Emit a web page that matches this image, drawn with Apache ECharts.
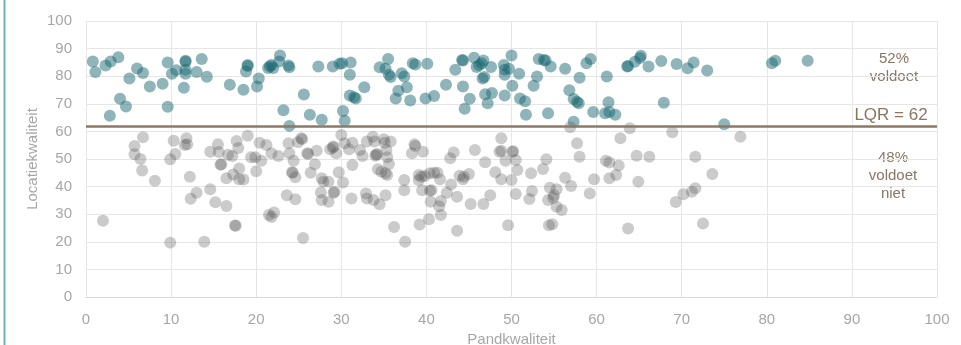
<!DOCTYPE html>
<html>
<head>
<meta charset="utf-8">
<script src="https://cdn.jsdelivr.net/npm/echarts@6/dist/echarts.min.js"></script>
<style>html,body{margin:0;padding:0;background:#fff;}#c{width:961px;height:345px;}</style>
</head>
<body>
<div id="c"></div>
<script>
const xTicks = [0,10,20,30,40,50,60,70,80,90,100];
const yTicks = [0,10,20,30,40,50,60,70,80,90,100];
const lqr = 62;
const xName = 'Pandkwaliteit';
const yName = 'Locatiekwaliteit';
const labelsAbove = ['52%', 'voldoet'];
const labelsBelow = ['48%', 'voldoet', 'niet'];
const lqrLabel = 'LQR = ' + lqr;

// Panden boven de LQR (voldoet)
const voldoet = [
[0.8,85.3],[1.1,81.5],[2.3,83.9],[2.9,85.3],[3.8,86.9],[2.8,65.7],[4.0,71.8],[4.7,69.0],[5.1,79.2],[6.0,82.8],
[6.7,81.2],[7.5,76.3],[9.0,77.3],[9.6,85.0],[9.6,68.9],[10.1,80.9],[10.6,82.2],[11.7,85.6],[11.7,85.2],[11.7,82.3],
[11.7,80.9],[11.5,75.8],[13.0,81.5],[13.6,86.2],[14.2,79.8],[16.9,76.9],[18.5,75.1],[18.8,81.7],[19.0,84.1],[19.0,83.7],
[20.1,76.3],[20.3,79.2],[21.4,83.0],[21.8,84.1],[21.6,83.6],[22.0,83.0],[22.8,87.5],[22.7,85.3],[23.8,83.9],[23.9,83.2],
[23.2,67.7],[23.9,62.0],[25.6,73.4],[26.3,66.0],[27.7,64.2],[27.3,83.5],[29.0,83.5],[29.8,84.5],[30.1,84.7],[31.1,85.0],
[31.0,80.5],[31.0,73.0],[31.5,72.4],[31.7,71.9],[32.7,76.0],[30.2,67.4],[30.4,63.9],[34.5,83.2],[35.5,86.2],[35.2,82.7],
[35.6,80.5],[35.8,79.7],[37.1,81.1],[37.4,79.9],[36.7,74.7],[36.4,71.9],[37.7,76.0],[38.1,71.2],[38.4,84.7],[38.7,84.2],
[40.1,84.5],[39.9,71.9],[40.9,72.8],[42.3,76.9],[43.4,82.3],[44.2,85.9],[44.3,85.7],[44.3,76.3],[45.1,71.8],[44.5,68.2],
[45.6,86.7],[45.9,83.3],[46.2,84.0],[46.5,84.7],[46.7,85.7],[46.6,79.2],[46.8,79.7],[46.9,73.5],[47.2,70.2],[47.7,73.9],
[47.6,83.3],[49.1,84.1],[49.2,82.3],[49.2,80.5],[49.7,82.7],[50.0,87.5],[49.2,73.0],[50.1,76.5],[50.9,80.9],[51.0,71.9],
[51.6,70.9],[51.7,66.0],[53.0,79.9],[52.6,76.5],[53.2,86.2],[54.0,85.7],[53.8,85.9],[54.6,83.5],[54.3,66.6],[56.3,82.7],
[56.8,74.9],[58.0,79.4],[57.3,71.7],[57.7,70.7],[57.9,70.2],[57.3,63.5],[58.8,84.7],[59.3,86.2],[59.6,67.0],[61.2,79.9],
[61.4,70.6],[61.0,66.6],[61.5,67.0],[62.2,66.0],[63.6,83.5],[63.7,83.7],[64.5,85.2],[65.2,87.4],[65.1,86.6],[66.1,83.5],
[67.6,85.5],[69.4,84.4],[70.7,82.9],[71.4,85.0],[73.0,82.1],[67.9,70.4],[75.0,62.6],[80.6,84.7],[81.0,85.6],[84.8,85.6]
];

// Panden onder de LQR (voldoet niet)
const voldoetNiet = [
[2.0,27.6],[5.7,54.7],[5.7,51.7],[6.4,50.0],[6.7,57.9],[6.6,45.8],[8.1,42.1],[9.9,49.9],[10.3,56.6],[10.5,51.8],
[11.8,57.5],[11.6,55.1],[11.9,55.3],[12.2,43.6],[12.3,35.6],[13.0,37.8],[14.6,39.0],[15.2,34.3],[16.5,33.0],[14.6,52.6],
[15.5,55.3],[15.6,52.5],[15.9,48.1],[15.8,47.9],[16.7,51.5],[17.2,51.1],[17.7,56.5],[17.9,54.0],[16.5,43.0],[17.3,44.4],
[18.0,46.6],[18.0,42.7],[18.5,42.6],[17.5,25.9],[17.6,25.8],[19.0,58.4],[19.4,50.6],[19.9,50.6],[20.6,49.4],[20.0,45.6],
[20.4,55.9],[21.2,55.1],[21.8,52.1],[22.6,51.1],[21.5,29.7],[21.8,29.0],[22.1,30.6],[23.9,52.1],[23.8,55.7],[24.4,49.4],
[23.6,36.9],[24.6,35.4],[24.2,45.2],[24.3,45.0],[24.6,43.4],[24.9,56.1],[25.3,57.5],[25.4,57.2],[25.5,21.4],[26.0,52.1],
[26.1,51.8],[26.4,45.0],[26.9,48.1],[27.1,53.0],[27.7,43.0],[27.9,41.8],[27.6,37.9],[27.7,35.1],[28.5,41.8],[28.5,34.5],
[28.7,53.5],[29.1,37.8],[29.2,38.1],[30.2,41.5],[29.7,45.2],[30.0,58.7],[30.4,55.7],[30.9,53.5],[31.3,55.9],[29.0,54.2],
[29.1,54.5],[29.4,52.1],[31.3,47.8],[31.2,35.7],[32.2,53.3],[32.5,51.1],[33.0,56.3],[33.7,58.1],[33.9,56.3],[35.0,57.2],
[35.1,55.9],[35.8,56.3],[34.1,51.5],[34.2,51.8],[34.0,51.2],[35.3,53.3],[35.4,50.6],[35.6,48.2],[34.3,46.3],[34.7,45.4],
[35.2,44.8],[35.4,44.2],[32.9,37.5],[33.0,35.7],[33.8,35.1],[34.5,33.6],[35.2,36.9],[36.2,25.4],[37.5,20.0],[37.4,42.4],
[37.4,38.7],[38.6,55.3],[38.7,54.7],[38.3,52.1],[39.6,52.6],[39.1,44.2],[39.1,42.4],[39.4,43.6],[39.8,43.8],[40.4,44.8],
[40.9,45.0],[41.3,45.0],[41.6,42.7],[39.5,38.7],[40.4,38.5],[40.6,38.7],[40.5,34.5],[41.5,32.9],[41.7,34.8],[41.7,29.7],
[40.3,28.2],[39.2,26.3],[42.4,37.8],[42.9,40.8],[43.6,36.3],[43.6,24.0],[42.8,50.3],[43.2,52.4],[43.9,43.9],[44.4,43.6],
[44.3,42.7],[45.0,44.6],[45.7,53.3],[45.2,33.7],[46.7,33.7],[47.5,36.9],[46.9,48.8],[48.1,45.2],[48.8,42.7],[48.8,57.5],
[48.8,53.0],[48.6,52.6],[49.3,49.4],[50.1,52.6],[50.2,52.8],[50.5,49.6],[50.7,46.0],[50.0,42.4],[50.5,37.3],[49.6,26.0],
[52.3,44.8],[52.4,38.4],[52.1,35.5],[53.7,46.4],[54.1,49.9],[56.3,43.2],[57.0,40.2],[54.5,39.6],[55.3,39.0],[55.0,36.9],
[54.9,35.9],[54.3,35.1],[55.3,32.7],[55.9,31.5],[54.4,26.0],[54.8,26.4],[56.9,61.5],[57.7,55.7],[58.0,50.8],[59.2,37.5],
[59.7,42.7],[61.1,49.4],[61.5,48.7],[62.6,47.6],[61.5,43.0],[62.3,44.2],[62.8,57.5],[63.9,61.1],[64.7,51.2],[64.9,41.8],
[63.7,24.8],[66.2,50.8],[68.9,59.7],[71.6,50.8],[73.6,44.6],[69.3,34.4],[70.2,37.2],[71.2,38.1],[71.6,39.4],[72.5,26.6],
[76.9,58.1],[9.9,19.7],[13.9,20.0]
];

const chart = echarts.init(document.getElementById('c'), null, {renderer: 'canvas'});
const annFont = 'Liberation Sans, Arial, sans-serif';
const axisLabelStyle = {color: '#a6a6a6', fontSize: 15, fontFamily: annFont};
const annColor = '#8a7763';

chart.setOption({
  animation: false,
  backgroundColor: '#ffffff',
  grid: {left: 86, right: 24, top: 21, bottom: 48, containLabel: false, outerBoundsMode: 'none'},
  xAxis: {
    type: 'value', min: xTicks[0], max: xTicks[xTicks.length-1], interval: 10,
    name: xName, nameLocation: 'middle', nameGap: 33,
    nameTextStyle: {color: '#a6a6a6', fontSize: 15, fontFamily: annFont},
    axisLine: {show: true, lineStyle: {color: '#d9d9d9', width: 1}},
    axisTick: {show: false},
    axisLabel: Object.assign({margin: 15}, axisLabelStyle),
    splitLine: {show: true, lineStyle: {color: '#e6e6e6', width: 1}}
  },
  yAxis: {
    type: 'value', min: yTicks[0], max: yTicks[yTicks.length-1], interval: 10,
    name: yName, nameLocation: 'middle', nameGap: 46, nameRotate: 90, nameMoveOverlap: false,
    nameTextStyle: {color: '#a6a6a6', fontSize: 15, fontFamily: annFont},
    axisLine: {show: false},
    axisTick: {show: false},
    axisLabel: Object.assign({margin: 14}, axisLabelStyle),
    splitLine: {show: true, lineStyle: {color: '#e6e6e6', width: 1}}
  },
  series: [
    {
      type: 'scatter', name: 'voldoet niet', data: voldoetNiet, symbolSize: 12,
      itemStyle: {color: 'rgba(75,75,75,0.36)'}, z: 2
    },
    {
      type: 'scatter', name: 'voldoet', data: voldoet, symbolSize: 12,
      itemStyle: {color: 'rgba(20,100,110,0.6)'}, z: 3,
      markLine: {
        silent: true, symbol: 'none', label: {show: false},
        lineStyle: {color: '#8c7966', width: 2.5, type: 'solid'},
        data: [{yAxis: lqr}]
      }
    }
  ],
  graphic: [
    {type: 'line', shape: {x1: 4.5, y1: 0, x2: 4.5, y2: 345}, style: {stroke: '#6fb0ba', lineWidth: 2}},
    {type: 'text', x: 894, y: 50, style: {text: labelsAbove.join('\n'), fill: annColor, font: '15px ' + annFont, align: 'center', verticalAlign: 'top', lineHeight: 18}},
    {type: 'text', x: 891, y: 115, style: {text: lqrLabel, fill: annColor, font: '17px ' + annFont, align: 'center', verticalAlign: 'middle'}},
    {type: 'text', x: 893, y: 149, style: {text: labelsBelow.join('\n'), fill: annColor, font: '15px ' + annFont, align: 'center', verticalAlign: 'top', lineHeight: 18}}
  ]
});
</script>
</body>
</html>
